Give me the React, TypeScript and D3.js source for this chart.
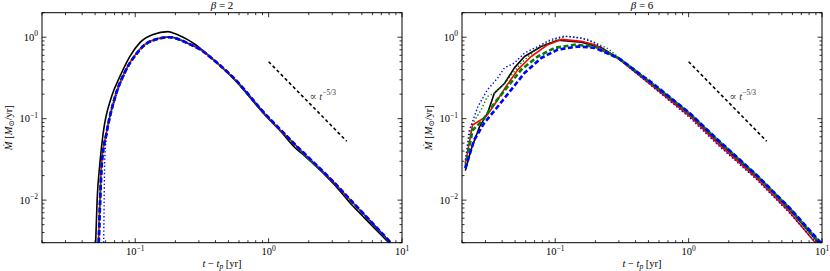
import React, { useEffect, useRef } from 'react';
import * as d3 from 'd3';

// axis ranges / tick labels
const xDomain = [0.02, 10];
const yDomain = [0.003, 2];
const xTickExps = [-1, 0, 1];
const yTickExps = [-2, -1, 0];
const panelTitles = ['β = 2', 'β = 6'];

// reference power law slope line  (t, Mdot)
const refT = [1, 3.85];
const refM = [0.5, 0.5 * Math.pow(3.85, -5 / 3)];

// ---- beta = 2 ----
const b2BlackT = [0.0505, 0.0518, 0.0543, 0.0574, 0.0665, 0.0768, 0.0912, 0.108, 0.136, 0.176, 0.192, 0.245, 0.28, 0.307, 0.365, 0.546, 0.973, 1.22, 1.6, 1.9, 3.08, 4.3, 5.2, 7.95];
const b2BlackM = [0.003, 0.01, 0.028, 0.065, 0.187, 0.33, 0.583, 0.853, 1.08, 1.17, 1.13, 0.94, 0.82, 0.73, 0.575, 0.31, 0.104, 0.071, 0.043, 0.034, 0.0158, 0.0084, 0.0061, 0.003];
const b2RedT = [0.053, 0.0543, 0.0559, 0.0605, 0.0704, 0.0837, 0.1024, 0.129, 0.182, 0.22, 0.26, 0.307, 0.365, 0.546, 0.973, 1.22, 1.6, 1.9, 3.08, 4.3, 5.2, 8.2];
const b2RedM = [0.003, 0.01, 0.028, 0.065, 0.187, 0.38, 0.64, 0.89, 1.01, 0.92, 0.81, 0.71, 0.57, 0.315, 0.107, 0.073, 0.047, 0.035, 0.0165, 0.0092, 0.0066, 0.003];
const b2GreenDotT = [0.0535, 0.0548, 0.0563, 0.061, 0.071, 0.0842, 0.103, 0.13, 0.184, 0.22, 0.26, 0.307, 0.365, 0.546, 0.973, 1.22, 1.6, 1.9, 3.08, 4.3, 5.2, 8.25];
const b2GreenDotM = [0.003, 0.01, 0.028, 0.064, 0.183, 0.375, 0.63, 0.88, 1.0, 0.92, 0.81, 0.71, 0.57, 0.316, 0.108, 0.073, 0.047, 0.035, 0.0166, 0.0093, 0.0066, 0.003];
const b2BlueDotT = [0.058, 0.0585, 0.059, 0.0612, 0.0712, 0.0845, 0.1032, 0.13, 0.183, 0.22, 0.26, 0.307, 0.365, 0.546, 0.973, 1.22, 1.6, 1.9, 3.08, 4.3, 5.2, 8.3];
const b2BlueDotM = [0.003, 0.01, 0.03, 0.065, 0.18, 0.37, 0.625, 0.88, 1.0, 0.92, 0.81, 0.71, 0.57, 0.317, 0.108, 0.074, 0.047, 0.036, 0.0167, 0.0093, 0.0067, 0.003];
const b2GreenDashT = [0.0532, 0.0545, 0.0561, 0.0607, 0.0706, 0.0839, 0.1026, 0.129, 0.182, 0.22, 0.26, 0.307, 0.365, 0.546, 0.973, 1.22, 1.6, 1.9, 3.08, 4.3, 5.2, 8.2];
const b2GreenDashM = [0.003, 0.01, 0.028, 0.065, 0.186, 0.378, 0.635, 0.885, 1.0, 0.92, 0.81, 0.71, 0.57, 0.316, 0.107, 0.073, 0.047, 0.035, 0.0165, 0.0092, 0.0066, 0.003];
const b2BlueDashT = [0.0533, 0.0546, 0.0562, 0.0608, 0.0707, 0.084, 0.1027, 0.129, 0.182, 0.22, 0.26, 0.307, 0.365, 0.546, 0.973, 1.22, 1.6, 1.9, 3.08, 4.3, 5.2, 8.25];
const b2BlueDashM = [0.003, 0.01, 0.028, 0.065, 0.185, 0.377, 0.633, 0.885, 1.0, 0.92, 0.81, 0.71, 0.57, 0.317, 0.108, 0.074, 0.047, 0.036, 0.0166, 0.0093, 0.0067, 0.003];

// ---- beta = 6 ----
const b6BlackT = [0.0212, 0.0233, 0.0271, 0.0311, 0.035, 0.0416, 0.0494, 0.0588, 0.0785, 0.1046, 0.157, 0.22, 0.3, 0.54, 1.02, 1.6, 3.22, 5.73, 9.4];
const b6BlackM = [0.023, 0.041, 0.08, 0.117, 0.206, 0.27, 0.42, 0.58, 0.77, 0.918, 0.87, 0.75, 0.55, 0.26, 0.112, 0.055, 0.0196, 0.0076, 0.003];
const b6RedT = [0.0212, 0.024, 0.0303, 0.035, 0.0428, 0.0524, 0.066, 0.088, 0.111, 0.157, 0.198, 0.3, 0.54, 1.02, 1.6, 3.22, 5.73, 8.9];
const b6RedM = [0.028, 0.0836, 0.106, 0.148, 0.248, 0.4, 0.58, 0.81, 0.94, 0.89, 0.81, 0.54, 0.25, 0.107, 0.052, 0.0186, 0.0071, 0.003];
const b6GreenDotT = [0.0212, 0.0233, 0.0278, 0.031, 0.035, 0.0416, 0.0556, 0.074, 0.099, 0.124, 0.176, 0.25, 0.3, 0.54, 1.02, 1.6, 3.22, 5.73, 9.3];
const b6GreenDotM = [0.028, 0.08, 0.128, 0.187, 0.206, 0.27, 0.483, 0.74, 0.94, 1.03, 0.94, 0.72, 0.56, 0.262, 0.113, 0.056, 0.0198, 0.0078, 0.003];
const b6BlueDotT = [0.0212, 0.0227, 0.0263, 0.031, 0.037, 0.0416, 0.0494, 0.0588, 0.074, 0.093, 0.117, 0.157, 0.198, 0.3, 0.54, 1.02, 1.6, 3.22, 5.73, 9.0];
const b6BlueDotM = [0.031, 0.072, 0.14, 0.226, 0.315, 0.42, 0.483, 0.64, 0.77, 0.94, 1.03, 0.98, 0.85, 0.54, 0.245, 0.103, 0.05, 0.018, 0.0069, 0.003];
const b6GreenDashT = [0.0212, 0.024, 0.0286, 0.035, 0.0441, 0.0556, 0.074, 0.099, 0.14, 0.198, 0.3, 0.54, 1.02, 1.6, 3.22, 5.73, 9.6];
const b6GreenDashM = [0.025, 0.072, 0.096, 0.155, 0.248, 0.4, 0.58, 0.74, 0.81, 0.77, 0.55, 0.265, 0.115, 0.057, 0.0202, 0.0079, 0.003];
const b6BlueDashT = [0.0212, 0.0247, 0.0293, 0.037, 0.0467, 0.0588, 0.0785, 0.1046, 0.148, 0.198, 0.3, 0.54, 1.02, 1.6, 3.22, 5.73, 9.8];
const b6BlueDashM = [0.0245, 0.055, 0.088, 0.14, 0.226, 0.363, 0.556, 0.705, 0.77, 0.74, 0.55, 0.27, 0.117, 0.058, 0.0205, 0.008, 0.003];

const styles = [
  { color: '#000000', width: 1.6, dash: null },
  { color: '#ff0000', width: 1.6, dash: null },
  { color: '#008000', width: 1.4, dash: '1.4,2.2' },
  { color: '#0000ff', width: 1.4, dash: '1.4,2.2' },
  { color: '#008000', width: 2.6, dash: '5,2.5' },
  { color: '#0000ff', width: 2.6, dash: '5,2.5' }
];

const zip = (t, m) => t.map((d, i) => ({ t: d, m: m[i] }));

const panels = [
  {
    title: panelTitles[0],
    l: 42,
    smooth: true,
    series: [
      zip(b2BlackT, b2BlackM),
      zip(b2RedT, b2RedM),
      zip(b2GreenDotT, b2GreenDotM),
      zip(b2BlueDotT, b2BlueDotM),
      zip(b2GreenDashT, b2GreenDashM),
      zip(b2BlueDashT, b2BlueDashM)
    ]
  },
  {
    title: panelTitles[1],
    l: 462,
    smooth: false,
    series: [
      zip(b6BlackT, b6BlackM),
      zip(b6RedT, b6RedM),
      zip(b6GreenDotT, b6GreenDotM),
      zip(b6BlueDotT, b6BlueDotM),
      zip(b6GreenDashT, b6GreenDashM),
      zip(b6BlueDashT, b6BlueDashM)
    ]
  }
];

const FONT = 'Liberation Serif, DejaVu Serif, serif';

const App = () => {
  const container = useRef(null);

  useEffect(() => {
    const svg = d3
      .select(container.current)
      .selectAll('svg')
      .data([0])
      .join('svg')
      .attr('width', 830)
      .attr('height', 271)
      .attr('font-family', FONT)
      .style('position', 'absolute')
      .style('left', 0)
      .style('top', 0)
      .style('background', '#fff');
    svg.selectAll('*').remove();

    const pw = 360;
    const top = 12.7;
    const bottom = 242.7;

    // minor tick values
    const minorVals = (dom) => {
      const out = [];
      for (let e = -3; e <= 1; e++) {
        for (let k = 1; k <= 9; k++) {
          const v = k * Math.pow(10, e);
          if (v >= dom[0] - 1e-12 && v <= dom[1] + 1e-12) out.push({ v, major: k === 1 });
        }
      }
      return out;
    };

    const txt = (sel) => sel.append('text').attr('font-family', FONT).attr('fill', '#000');

    panels.forEach((p, pi) => {
      const x = d3.scaleLog().domain(xDomain).range([p.l, p.l + pw]);
      const y = d3.scaleLog().domain(yDomain).range([bottom, top]);

      const g = svg.append('g').attr('class', 'panel' + pi);

      const clipId = 'clip' + pi;
      g.append('clipPath')
        .attr('id', clipId)
        .append('rect')
        .attr('x', p.l)
        .attr('y', top)
        .attr('width', pw)
        .attr('height', bottom - top);

      const plotg = g.append('g').attr('clip-path', `url(#${clipId})`);

      const line = d3
        .line()
        .x(d => x(d.t))
        .y(d => y(d.m))
        .curve(p.smooth ? d3.curveMonotoneX : d3.curveLinear);

      plotg
        .selectAll('.series-line')
        .data(p.series)
        .join('path')
        .attr('class', 'series-line')
        .attr('d', d => line(d))
        .style('fill', 'none')
        .style('stroke', (d, i) => styles[i].color)
        .style('stroke-width', (d, i) => styles[i].width)
        .style('stroke-dasharray', (d, i) => styles[i].dash)
        .style('stroke-linejoin', 'round');

      // power-law guide
      plotg
        .append('path')
        .attr('d', d3.line().x(d => x(d.t)).y(d => y(d.m))(zip(refT, refM)))
        .style('fill', 'none')
        .style('stroke', '#000')
        .style('stroke-width', 1.6)
        .style('stroke-dasharray', '3.2,2.6');

      const ann = txt(g)
        .attr('x', x(refT[0]) + 41)
        .attr('y', 100)
        .attr('font-size', 10.5)
        .attr('fill', '#333');
      ann.append('tspan').text('∝ ');
      ann.append('tspan').attr('font-style', 'italic').text('t');
      ann.append('tspan').attr('dy', -5).attr('font-size', 7.5).text('−5/3');

      // ticks (inward, all four sides)
      const xt = minorVals(xDomain);
      const yt = minorVals(yDomain);
      const tg = g.append('g').style('stroke', '#000').style('stroke-width', 0.8);
      xt.forEach(d => {
        const len = d.major ? 4.5 : 2.5;
        const xv = x(d.v);
        tg.append('line').attr('x1', xv).attr('x2', xv).attr('y1', bottom).attr('y2', bottom - len);
        tg.append('line').attr('x1', xv).attr('x2', xv).attr('y1', top).attr('y2', top + len);
      });
      yt.forEach(d => {
        const len = d.major ? 4.5 : 2.5;
        const yv = y(d.v);
        tg.append('line').attr('x1', p.l).attr('x2', p.l + len).attr('y1', yv).attr('y2', yv);
        tg.append('line').attr('x1', p.l + pw).attr('x2', p.l + pw - len).attr('y1', yv).attr('y2', yv);
      });

      // frame
      g.append('rect')
        .attr('x', p.l)
        .attr('y', top)
        .attr('width', pw)
        .attr('height', bottom - top)
        .style('fill', 'none')
        .style('stroke', '#000')
        .style('stroke-width', 1);

      // tick labels
      xTickExps.forEach(e => {
        const t = txt(g)
          .attr('x', x(Math.pow(10, e)))
          .attr('y', 255)
          .attr('text-anchor', 'middle')
          .attr('font-size', 10.5);
        t.append('tspan').text('10');
        t.append('tspan').attr('dy', -4.5).attr('font-size', 7.5).text(e < 0 ? '−' + -e : String(e));
      });
      yTickExps.forEach(e => {
        const t = txt(g)
          .attr('x', p.l - 4)
          .attr('y', y(Math.pow(10, e)) + 3.5)
          .attr('text-anchor', 'end')
          .attr('font-size', 10.5);
        t.append('tspan').text('10');
        t.append('tspan').attr('dy', -4.5).attr('font-size', 7.5).text(e < 0 ? '−' + -e : String(e));
      });

      // title
      const ti = txt(g)
        .attr('x', p.l + pw / 2)
        .attr('y', 9)
        .attr('text-anchor', 'middle')
        .attr('font-size', 11);
      ti.append('tspan').attr('font-style', 'italic').text('β');
      ti.append('tspan').text(p.title.slice(1));

      // x label
      const xl = txt(g)
        .attr('x', p.l + pw / 2)
        .attr('y', 266.5)
        .attr('text-anchor', 'middle')
        .attr('font-size', 10.5);
      xl.append('tspan').attr('font-style', 'italic').text('t');
      xl.append('tspan').text(' − ');
      xl.append('tspan').attr('font-style', 'italic').text('t');
      xl.append('tspan').attr('font-style', 'italic').attr('font-size', 7.5).attr('dy', 2).text('p');
      xl.append('tspan').attr('dy', -2).text(' [yr]');

      // y label
      const yl = txt(g)
        .attr('transform', `translate(${p.l - 30},${(top + bottom) / 2})rotate(-90)`)
        .attr('text-anchor', 'middle')
        .attr('font-size', 10.5);
      yl.append('tspan').attr('font-style', 'italic').text('M\u0307');
      yl.append('tspan').text(' [');
      yl.append('tspan').attr('font-style', 'italic').text('M');
      yl.append('tspan').attr('font-size', 7.5).attr('dy', 2).text('⊙');
      yl.append('tspan').attr('dy', -2).text('/yr]');
    });
  }, []);

  return <div className="chart-container" ref={container}></div>;
};

export default App;
